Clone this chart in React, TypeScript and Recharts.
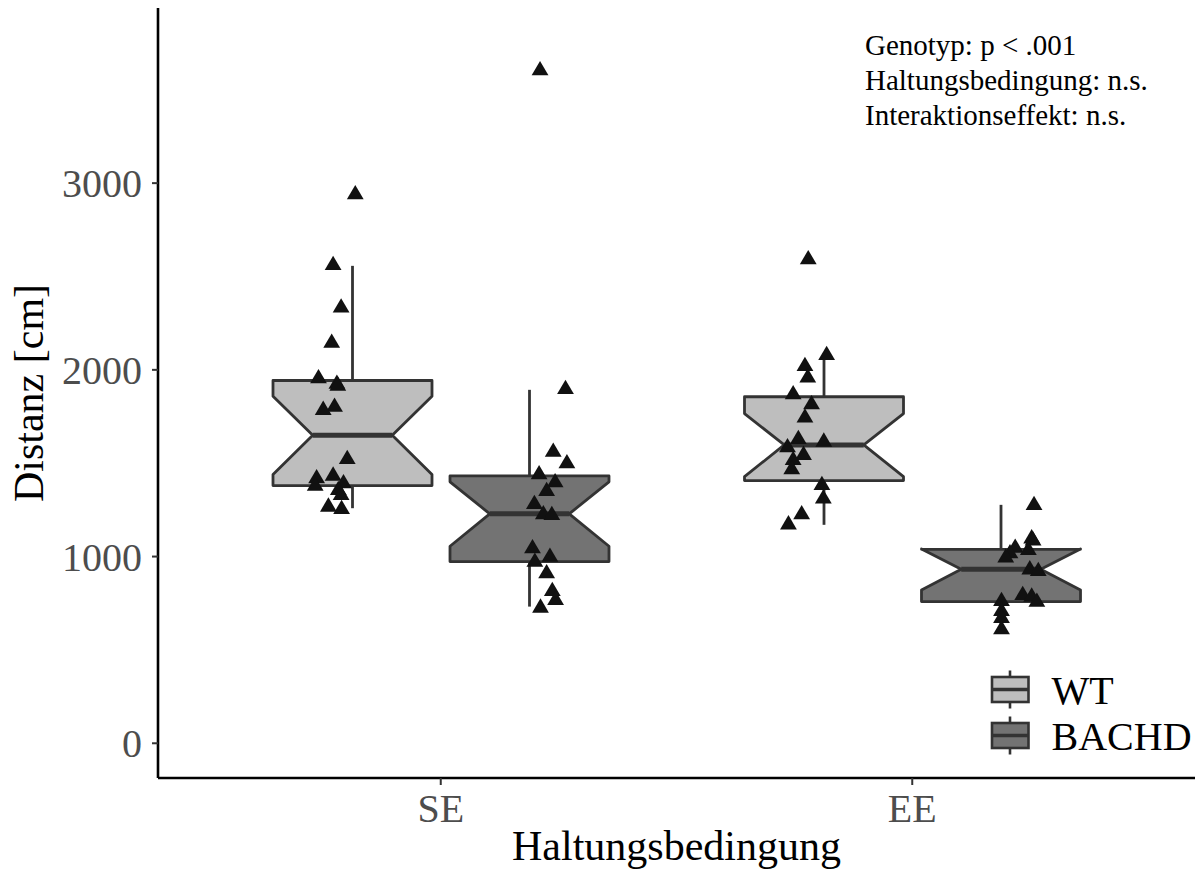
import React from 'react';
import { ComposedChart, Bar, Scatter, XAxis, YAxis, Legend, Customized } from 'recharts';

document.body.style.margin = '0';

const FONT = '"Liberation Serif", "Times New Roman", serif';
const WT_FILL = '#bebebe';
const BACHD_FILL = '#737373';
const OUTLINE = '#333333';
const TICK_GREY = '#4d4d4d';

const conditions = ['SE', 'EE'];
const genotypes = ['WT', 'BACHD'];
const yTicks = [0, 1000, 2000, 3000];

// box statistics, one entry per condition (SE, EE)
const wtWhiskerLow = [1259, 1170];
const wtQ1 = [1380, 1407];
const wtMedian = [1650, 1598];
const wtQ3 = [1943, 1856];
const wtWhiskerHigh = [2557, 2089];
const wtNotchLow = [1440, 1428];
const wtNotchHigh = [1858, 1766];

const bachdWhiskerLow = [732, 590];
const bachdQ1 = [973, 759];
const bachdMedian = [1229, 932];
const bachdQ3 = [1432, 1039];
const bachdWhiskerHigh = [1893, 1277];
const bachdNotchLow = [1055, 821];
const bachdNotchHigh = [1400, 1041];

// single animals: distance in cm and horizontal jitter (category units)
const wtSeDistance = [2950, 2571, 2343, 2155, 1964, 1935, 1925, 1812, 1795, 1532, 1443, 1429, 1402, 1389, 1366, 1339, 1277, 1264];
const wtSeJitter = [0.006, -0.041, -0.024, -0.044, -0.072, -0.033, -0.031, -0.038, -0.062, -0.011, -0.041, -0.076, -0.019, -0.079, -0.03, -0.024, -0.051, -0.023];

const bachdSeDistance = [3614, 1907, 1571, 1509, 1450, 1407, 1361, 1291, 1236, 1232, 1054, 1009, 982, 920, 825, 777, 736];
const bachdSeJitter = [0.023, 0.077, 0.051, 0.08, 0.021, 0.055, 0.037, 0.011, 0.03, 0.048, 0.007, 0.044, 0.012, 0.037, 0.049, 0.056, 0.024];

const wtEeDistance = [2602, 2089, 2030, 1968, 1879, 1825, 1754, 1639, 1625, 1595, 1554, 1527, 1477, 1393, 1321, 1236, 1182];
const wtEeJitter = [-0.033, 0.006, -0.04, -0.034, -0.065, -0.026, -0.04, -0.054, 0, -0.077, -0.043, -0.065, -0.068, -0.004, -0.001, -0.047, -0.075];

const bachdEeDistance = [1286, 1107, 1095, 1057, 1045, 1027, 1004, 941, 932, 804, 795, 768, 771, 718, 680, 620];
const bachdEeJitter = [0.071, 0.066, 0.069, 0.031, 0.059, 0.02, 0.011, 0.062, 0.08, 0.047, 0.066, 0.077, 0.002, 0.002, 0.002, 0.002];

const statsLines = ['Genotyp: p < .001', 'Haltungsbedingung: n.s.', 'Interaktionseffekt: n.s.'];

type BoxStats = {
  lo: number; q1: number; med: number; q3: number; hi: number; notchLow: number; notchHigh: number;
};

const boxRows = conditions.map((cond, i) => ({
  cond,
  WT: {
    lo: wtWhiskerLow[i], q1: wtQ1[i], med: wtMedian[i], q3: wtQ3[i], hi: wtWhiskerHigh[i],
    notchLow: wtNotchLow[i], notchHigh: wtNotchHigh[i],
  } as BoxStats,
  BACHD: {
    lo: bachdWhiskerLow[i], q1: bachdQ1[i], med: bachdMedian[i], q3: bachdQ3[i], hi: bachdWhiskerHigh[i],
    notchLow: bachdNotchLow[i], notchHigh: bachdNotchHigh[i],
  } as BoxStats,
}));

// whisker range of one genotype; other rows (e.g. scatter points) have no box
const whiskerRange = (group: 'WT' | 'BACHD') => (row: any) =>
  row && row[group] ? [row[group].lo, row[group].hi] : undefined;

// dodge offset of the two genotypes inside a condition
const DODGE = 0.1875;
const toPoints = (dist: number[], jitter: number[], condIdx: number, side: number) =>
  dist.map((y, i) => ({ x: condIdx + 1 + side * DODGE + jitter[i], y }));

const wtPoints = [...toPoints(wtSeDistance, wtSeJitter, 0, -1), ...toPoints(wtEeDistance, wtEeJitter, 1, -1)];
const bachdPoints = [...toPoints(bachdSeDistance, bachdSeJitter, 0, 1), ...toPoints(bachdEeDistance, bachdEeJitter, 1, 1)];

// notched box drawn inside the whisker range bar
const makeBoxShape = (group: 'WT' | 'BACHD', fill: string) => (props: any) => {
  const { x, y, width, height, payload } = props;
  const s: BoxStats | undefined = payload && payload[group];
  if (!s || !Number.isFinite(y) || !Number.isFinite(height)) return <g />;
  const top = Math.min(y, y + height);
  const bottom = Math.max(y, y + height);
  const py = (v: number) => bottom - ((v - s.lo) / (s.hi - s.lo)) * (bottom - top);
  const cx = x + width / 2;
  const x0 = x;
  const x1 = x + width;
  const indent = width / 4;
  const outline = [
    [x0, py(s.q3)], [x0, py(s.notchHigh)], [x0 + indent, py(s.med)], [x0, py(s.notchLow)], [x0, py(s.q1)],
    [x1, py(s.q1)], [x1, py(s.notchLow)], [x1 - indent, py(s.med)], [x1, py(s.notchHigh)], [x1, py(s.q3)],
  ].map((p) => p.join(',')).join(' ');
  return (
    <g>
      <line x1={cx} x2={cx} y1={py(s.hi)} y2={py(s.q3)} stroke={OUTLINE} strokeWidth={2.8} />
      <line x1={cx} x2={cx} y1={py(s.q1)} y2={py(s.lo)} stroke={OUTLINE} strokeWidth={2.8} />
      <polygon points={outline} fill={fill} stroke={OUTLINE} strokeWidth={2.8} strokeLinejoin="round" />
      <line x1={x0 + indent} x2={x1 - indent} y1={py(s.med)} y2={py(s.med)} stroke={OUTLINE} strokeWidth={5} />
    </g>
  );
};

const Triangle = (props: any) => {
  const { cx, cy } = props;
  return <path d={`M${cx},${cy - 7.5} L${cx + 8.4},${cy + 6.8} L${cx - 8.4},${cy + 6.8} Z`} fill="#111111" />;
};

const renderLegend = (props: any) => {
  const items = (props.payload || [])
    .filter((e: any) => genotypes.includes(e.value))
    .sort((a: any, b: any) => genotypes.indexOf(a.value) - genotypes.indexOf(b.value));
  return (
    <svg width={220} height={100} style={{ display: 'block' }}>
      {items.map((e: any, i: number) => {
        const oy = i * 46;
        return (
          <g key={e.value}>
            <line x1={30} x2={30} y1={oy + 10.5} y2={oy + 48.5} stroke={OUTLINE} strokeWidth={2.6} />
            <rect x={12} y={oy + 17} width={36.5} height={25} fill={e.color} stroke={OUTLINE} strokeWidth={2.6} />
            <line x1={12} x2={48.5} y1={oy + 29.5} y2={oy + 29.5} stroke={OUTLINE} strokeWidth={3.4} />
            <text x={71.5} y={oy + 43.5} fontFamily={FONT} fontSize={40} fill="#000">{e.value}</text>
          </g>
        );
      })}
    </svg>
  );
};

const StatsNote = () => (
  <g>
    {statsLines.map((line, i) => (
      <text key={line} x={865} y={54.5 + i * 35} fontFamily={FONT} fontSize={29} fill="#000">
        {line}
      </text>
    ))}
  </g>
);

const yTitle = (props: any) => {
  const { viewBox } = props;
  const x = viewBox.x + 43;
  const y = viewBox.y + viewBox.height / 2;
  return (
    <text x={x} y={y} transform={`rotate(-90, ${x}, ${y})`} textAnchor="middle" fontFamily={FONT} fontSize={42} fill="#000">
      Distanz [cm]
    </text>
  );
};

export default function App() {
  return (
    <ComposedChart
      width={1203}
      height={870}
      data={boxRows}
      margin={{ top: 8, right: 8, bottom: 0, left: 0 }}
      barSize={159}
      barGap={18}
    >
      <XAxis
        xAxisId="cat"
        dataKey="cond"
        type="category"
        padding={{ left: 47, right: 47 }}
        height={92}
        tickSize={7}
        tickMargin={9}
        tick={{ fill: TICK_GREY, fontSize: 40, fontFamily: FONT }}
        tickLine={{ stroke: OUTLINE, strokeWidth: 2 }}
        axisLine={{ stroke: '#000', strokeWidth: 2.6 }}
        label={{ value: 'Haltungsbedingung', position: 'insideBottom', offset: 10, fill: '#000', fontSize: 42, fontFamily: FONT }}
      />
      <XAxis xAxisId="num" dataKey="x" type="number" domain={[0.4, 2.6]} allowDataOverflow hide />
      <YAxis
        type="number"
        domain={[-186, 3938]}
        allowDataOverflow
        ticks={yTicks}
        width={158}
        tickSize={6}
        tickMargin={10}
        tick={{ fill: TICK_GREY, fontSize: 40, fontFamily: FONT }}
        tickLine={{ stroke: OUTLINE, strokeWidth: 2 }}
        axisLine={{ stroke: '#000', strokeWidth: 2.6 }}
        label={{ content: yTitle }}
      />
      <Bar
        xAxisId="cat"
        name="WT"
        dataKey={whiskerRange('WT')}
        fill={WT_FILL}
        shape={makeBoxShape('WT', WT_FILL)}
        isAnimationActive={false}
      />
      <Bar
        xAxisId="cat"
        name="BACHD"
        dataKey={whiskerRange('BACHD')}
        fill={BACHD_FILL}
        shape={makeBoxShape('BACHD', BACHD_FILL)}
        isAnimationActive={false}
      />
      <Scatter xAxisId="num" name="WT Tiere" data={wtPoints} dataKey="y" shape={Triangle} legendType="none" isAnimationActive={false} />
      <Scatter xAxisId="num" name="BACHD Tiere" data={bachdPoints} dataKey="y" shape={Triangle} legendType="none" isAnimationActive={false} />
      <Legend
        layout="horizontal"
        verticalAlign="middle"
        align="center"
        wrapperStyle={{ left: 980, top: 660, width: 220 }}
        content={renderLegend}
      />
      <Customized component={<StatsNote />} />
    </ComposedChart>
  );
}
